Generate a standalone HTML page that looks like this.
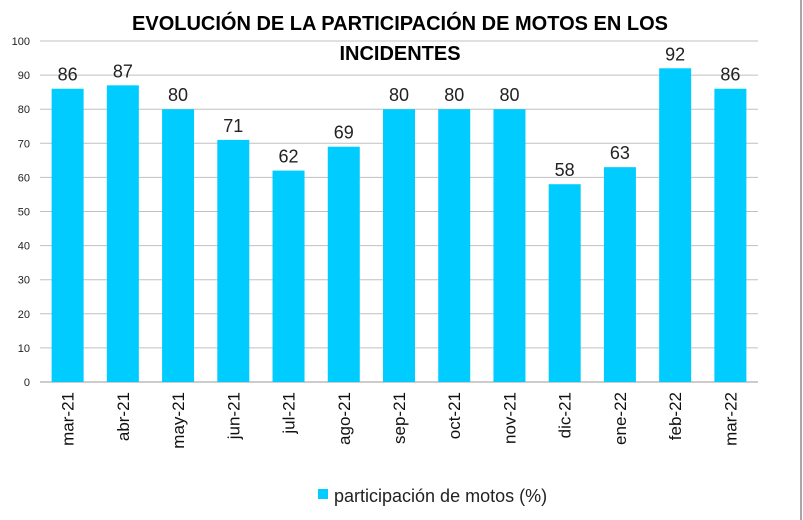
<!DOCTYPE html>
<html><head><meta charset="utf-8"><style>
body{margin:0;background:#fff;}
svg{display:block;font-family:"Liberation Sans",Arial,sans-serif;}
</style></head><body>
<svg id="chart" width="803" height="520">
<rect x="0" y="0" width="803" height="520" fill="#fff"/>
<line x1="801" y1="0" x2="801" y2="520" stroke="#888" stroke-width="1.5"/>
<text x="400" y="30" text-anchor="middle" font-size="20" font-weight="bold">EVOLUCIÓN DE LA PARTICIPACIÓN DE MOTOS EN LOS</text>
<text x="400" y="60" text-anchor="middle" font-size="20" font-weight="bold">INCIDENTES</text>
<g id="grid"></g><g id="bars"></g><g id="labels"></g>
<rect x="318" y="489" width="10" height="10" fill="#00CCFF"/>
<text x="334" y="502" font-size="18" fill="#222">participación de motos (%)</text>
</svg>
<script>
const categories=["mar-21","abr-21","may-21","jun-21","jul-21","ago-21","sep-21","oct-21","nov-21","dic-21","ene-22","feb-22","mar-22"];
const values=[86,87,80,71,62,69,80,80,80,58,63,92,86];
const yTicks=[0,10,20,30,40,50,60,70,80,90,100];
const NS="http://www.w3.org/2000/svg";
const L=40,R=758,T=41,B=382,yMax=100;
const y=v=>B-(v/yMax)*(B-T);
const bw=(R-L)/categories.length;
const x=i=>L+bw*i+bw/2;
function mk(t,a,p){const e=document.createElementNS(NS,t);for(const k in a)e.setAttribute(k,a[k]);p.appendChild(e);return e;}
const g=document.getElementById('grid'),bg=document.getElementById('bars'),lg=document.getElementById('labels');
yTicks.forEach(v=>{
 const ln=mk('line',{x1:L,x2:R,y1:y(v),y2:y(v),stroke:v===0?'#999':'#c0c0c0','stroke-width':1},g);
 
 
 const t=mk('text',{x:30,y:y(v)+4,'text-anchor':'end','font-size':11,fill:'#222'},g);
 t.textContent=v;
 
 
});
values.forEach((v,i)=>{
 const r=mk('rect',{x:x(i)-16,y:y(v),width:32,height:B-y(v),fill:'#00CCFF'},bg);
 
 
 const t=mk('text',{x:x(i),y:y(v)-8,'text-anchor':'middle','font-size':18,fill:'#222'},lg);
 t.textContent=v;
 
 
 const c=mk('text',{x:0,y:0,'text-anchor':'end','font-size':17,fill:'#111',transform:`translate(${x(i)+6},${B+10}) rotate(-90)`},lg);
 c.textContent=categories[i];
 
 
});
</script>
</body></html>
